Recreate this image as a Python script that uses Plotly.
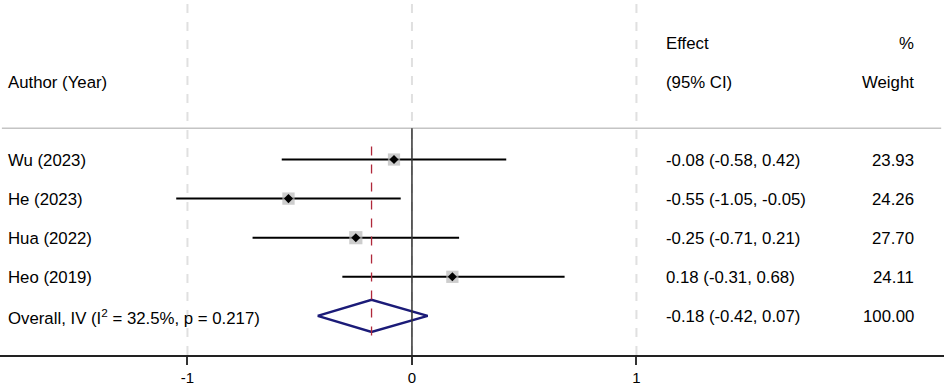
import plotly.graph_objects as go

# ---- data ----
studies = ["Wu (2023)", "He (2023)", "Hua (2022)", "Heo (2019)"]
effects = [-0.08, -0.55, -0.25, 0.18]
ci_low = [-0.58, -1.05, -0.71, -0.31]
ci_high = [0.42, -0.05, 0.21, 0.68]
weights = [23.93, 24.26, 27.70, 24.11]

overall_label = "Overall, IV (I<sup>2</sup> = 32.5%, p = 0.217)"
overall_effect = -0.18
overall_low = -0.42
overall_high = 0.07
overall_weight = 100.00

x_ticks = [-1, 0, 1]
tick_labels = ["-1", "0", "1"]

# ---- layout helpers ----
n = len(studies)
rows_y = [n + 1 - i for i in range(n)]      # 5,4,3,2
overall_y = 1
header2_y = n + 3                          # 7
header1_y = n + 4                          # 8
sep_y = n + 1.8
y_top = 9.08
x_range = [-1.835, 2.37]
x_label = -1.81
x_eff = 1.122
x_wt = 2.245
text_dy = -0.02

FONT = "Liberation Sans, Arial, Helvetica, sans-serif"
FS = 16.8
fig = go.Figure()

# CI lines
for y, lo, hi in zip(rows_y, ci_low, ci_high):
    fig.add_trace(go.Scatter(x=[lo, hi], y=[y, y], mode="lines",
                             line=dict(color="black", width=2),
                             hoverinfo="skip", showlegend=False))

# weight squares
sizes = [12.5 * (w / 25) ** 0.5 for w in weights]
fig.add_trace(go.Scatter(x=effects, y=rows_y, mode="markers",
                         marker=dict(symbol="square", size=sizes, color="#b8b8b8",
                                     line=dict(width=0)),
                         showlegend=False, hoverinfo="skip"))
fig.add_trace(go.Scatter(x=effects, y=rows_y, mode="markers",
                         marker=dict(symbol="diamond", size=7, color="black"),
                         showlegend=False, hoverinfo="skip"))

# overall diamond
fig.add_trace(go.Scatter(
    x=[overall_low, overall_effect, overall_high, overall_effect, overall_low],
    y=[overall_y, overall_y + 0.41, overall_y, overall_y - 0.41, overall_y],
    mode="lines", line=dict(color="#1b1b78", width=2.5),
    showlegend=False, hoverinfo="skip"))

shapes = []
# dashed gridlines
for xv in x_ticks:
    shapes.append(dict(type="line", x0=xv, x1=xv, y0=0, y1=y_top, xref="x", yref="y",
                       line=dict(color="#e0e0e0", width=2, dash="dash"), layer="below"))
# separator line
shapes.append(dict(type="line", x0=0.002, x1=0.997, y0=sep_y, y1=sep_y, xref="paper", yref="y",
                   line=dict(color="#c4c4c4", width=1.5)))
# null line
shapes.append(dict(type="line", x0=0, x1=0, y0=0, y1=sep_y, xref="x", yref="y",
                   line=dict(color="#333333", width=1.5)))
# overall effect line
shapes.append(dict(type="line", x0=overall_effect, x1=overall_effect, y0=0.5, y1=n + 1.42,
                   xref="x", yref="y",
                   line=dict(color="#b0283a", width=1.3, dash="dash")))

ann = []
def txt(x, y, s, anchor="left"):
    ann.append(dict(x=x, y=y + text_dy, xref="x", yref="y", text=s, showarrow=False,
                    xanchor=anchor, yanchor="middle",
                    font=dict(family=FONT, size=FS, color="black")))

txt(x_label, header2_y, "Author (Year)")
txt(x_eff, header1_y, "Effect")
txt(x_eff, header2_y, "(95% CI)")
txt(x_wt, header1_y, "%", "right")
txt(x_wt, header2_y, "Weight", "right")
for y, s, e, lo, hi, w in zip(rows_y, studies, effects, ci_low, ci_high, weights):
    txt(x_label, y, s)
    txt(x_eff, y, f"{e:.2f} ({lo:.2f}, {hi:.2f})")
    txt(x_wt, y, f"{w:.2f}", "right")
txt(x_label, overall_y, overall_label)
txt(x_eff, overall_y, f"{overall_effect:.2f} ({overall_low:.2f}, {overall_high:.2f})")
txt(x_wt, overall_y, f"{overall_weight:.2f}", "right")

fig.update_layout(
    width=944, height=385,
    margin=dict(l=0, r=0, t=0, b=30, autoexpand=False),
    plot_bgcolor="white", paper_bgcolor="white",
    shapes=shapes, annotations=ann,
    xaxis=dict(range=x_range, tickvals=x_ticks, ticktext=tick_labels,
               automargin=False,
               showgrid=False, zeroline=False, showline=True,
               linecolor="#222222", linewidth=1.5,
               ticks="outside", ticklen=8, tickwidth=1.5, tickcolor="#333333",
               tickfont=dict(family=FONT, size=15, color="black")),
    yaxis=dict(range=[0, y_top], visible=False, showgrid=False, zeroline=False,
               automargin=False),
)

fig.write_html("out.html", config={"displayModeBar": False},
               post_script="document.body.style.margin='0';document.body.style.overflow='hidden';")
